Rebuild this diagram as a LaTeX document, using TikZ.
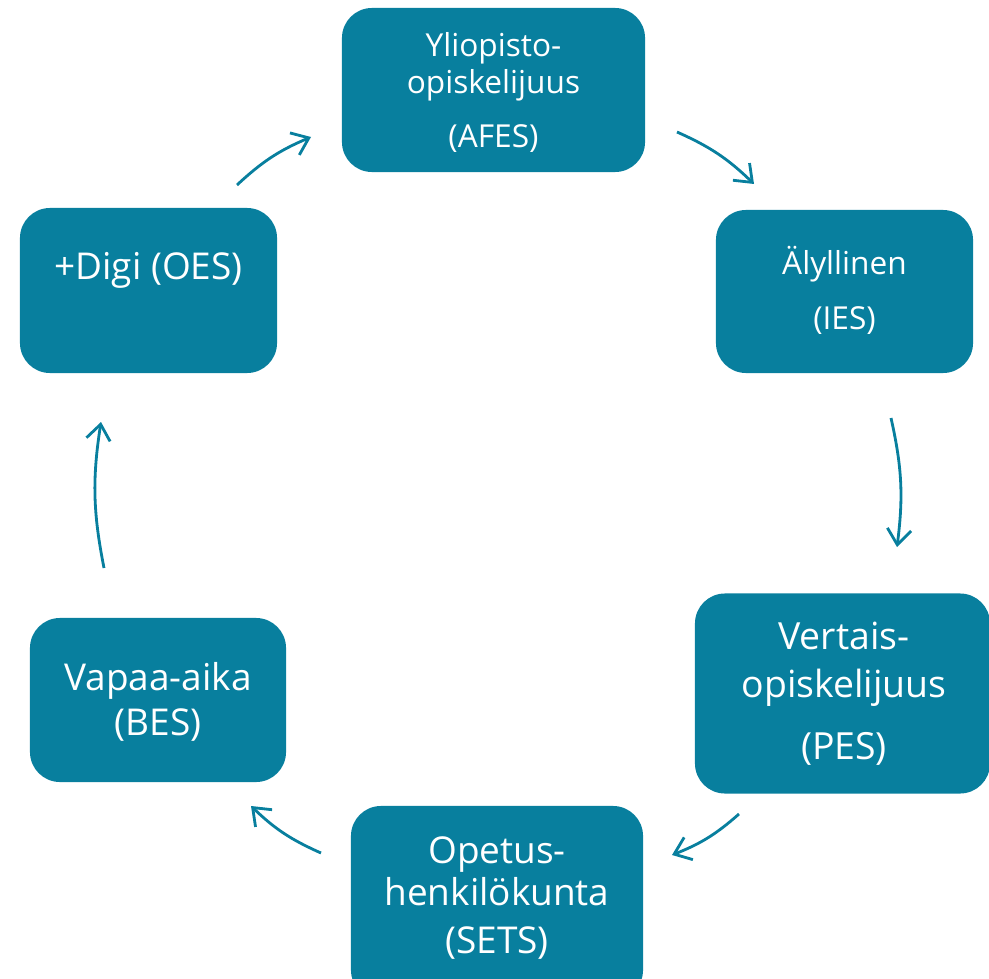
\documentclass[tikz,border=0pt]{standalone}
\usepackage{fontspec}
\setmainfont{Open Sans}
\usetikzlibrary{arrows.meta}
\definecolor{boxblue}{RGB}{8,127,158}
\tikzset{
  box/.style={fill=boxblue, draw=none, rounded corners=0.75cm, inner sep=0pt},
  boxtext/.style={white, align=center, anchor=base, inner sep=0pt},
  cyclearrow/.style={draw=boxblue, line width=2pt, -{Straight Barb[length=11pt,width=17pt]}},
}
\begin{document}
\begin{tikzpicture}[x=0.025cm, y=-0.025cm]
  \clip (0,0) rectangle (989,979);
  % boxes
  \node[box, minimum width=7.575cm, minimum height=4.1cm] (afes) at (493.5,90) {};
  \node[box, minimum width=6.425cm, minimum height=4.075cm] (ies) at (844.5,291.5) {};
  \node[box, minimum width=7.375cm, minimum height=5cm] (pes) at (842.5,693.5) {};
  \node[box, minimum width=7.3cm, minimum height=4.85cm] (sets) at (497,903) {};
  \node[box, minimum width=6.4cm, minimum height=4.1cm] (bes) at (158,700) {};
  \node[box, minimum width=6.425cm, minimum height=4.125cm] (oes) at (148.5,290.5) {};
  % texts (anchored at the baseline of the last line)
  \node[boxtext, font=\fontsize{22.5}{26.3}\selectfont] (afestxt) at (493.5,148)
    {Yliopisto-\\opiskelijuus\\[12.7pt](AFES)};
  \node[boxtext, font=\fontsize{22.5}{39}\selectfont] (iestxt) at (844.5,329)
    {Älyllinen\\(IES)};
  \node[boxtext, font=\fontsize{26.6}{34}\selectfont] (pestxt) at (844,759)
    {Vertais-\\opiskelijuus\\[10pt](PES)};
  \node[boxtext, font=\fontsize{26.3}{30.5}\selectfont] (setstxt) at (497,953)
    {Opetus-\\henkilökunta\\[3pt](SETS)};
  \node[boxtext, font=\fontsize{26.3}{32}\selectfont] (bestxt) at (158,735)
    {Vapaa-aika\\(BES)};
  \node[boxtext, font=\fontsize{26.3}{32}\selectfont] (oestxt) at (148.5,279)
    {+Digi (OES)};
  % arrow ends
  \coordinate (a1) at (677,132);  \coordinate (b1) at (754,184);
  \coordinate (a2) at (891,418);  \coordinate (b2) at (897,547);
  \coordinate (a3) at (739,814);  \coordinate (b3) at (672,855);
  \coordinate (a4) at (321,853);  \coordinate (b4) at (251,806);
  \coordinate (a5) at (104,568);  \coordinate (b5) at (101,422);
  \coordinate (a6) at (237,185);  \coordinate (b6) at (311,137);
  \draw[cyclearrow] (a1) to[bend left=10] (b1);
  \draw[cyclearrow] (a2) to[bend left=10] (b2);
  \draw[cyclearrow] (a3) to[bend left=10] (b3);
  \draw[cyclearrow] (a4) to[bend left=10] (b4);
  \draw[cyclearrow] (a5) to[bend left=10] (b5);
  \draw[cyclearrow] (a6) to[bend left=10] (b6);
\end{tikzpicture}
\end{document}
